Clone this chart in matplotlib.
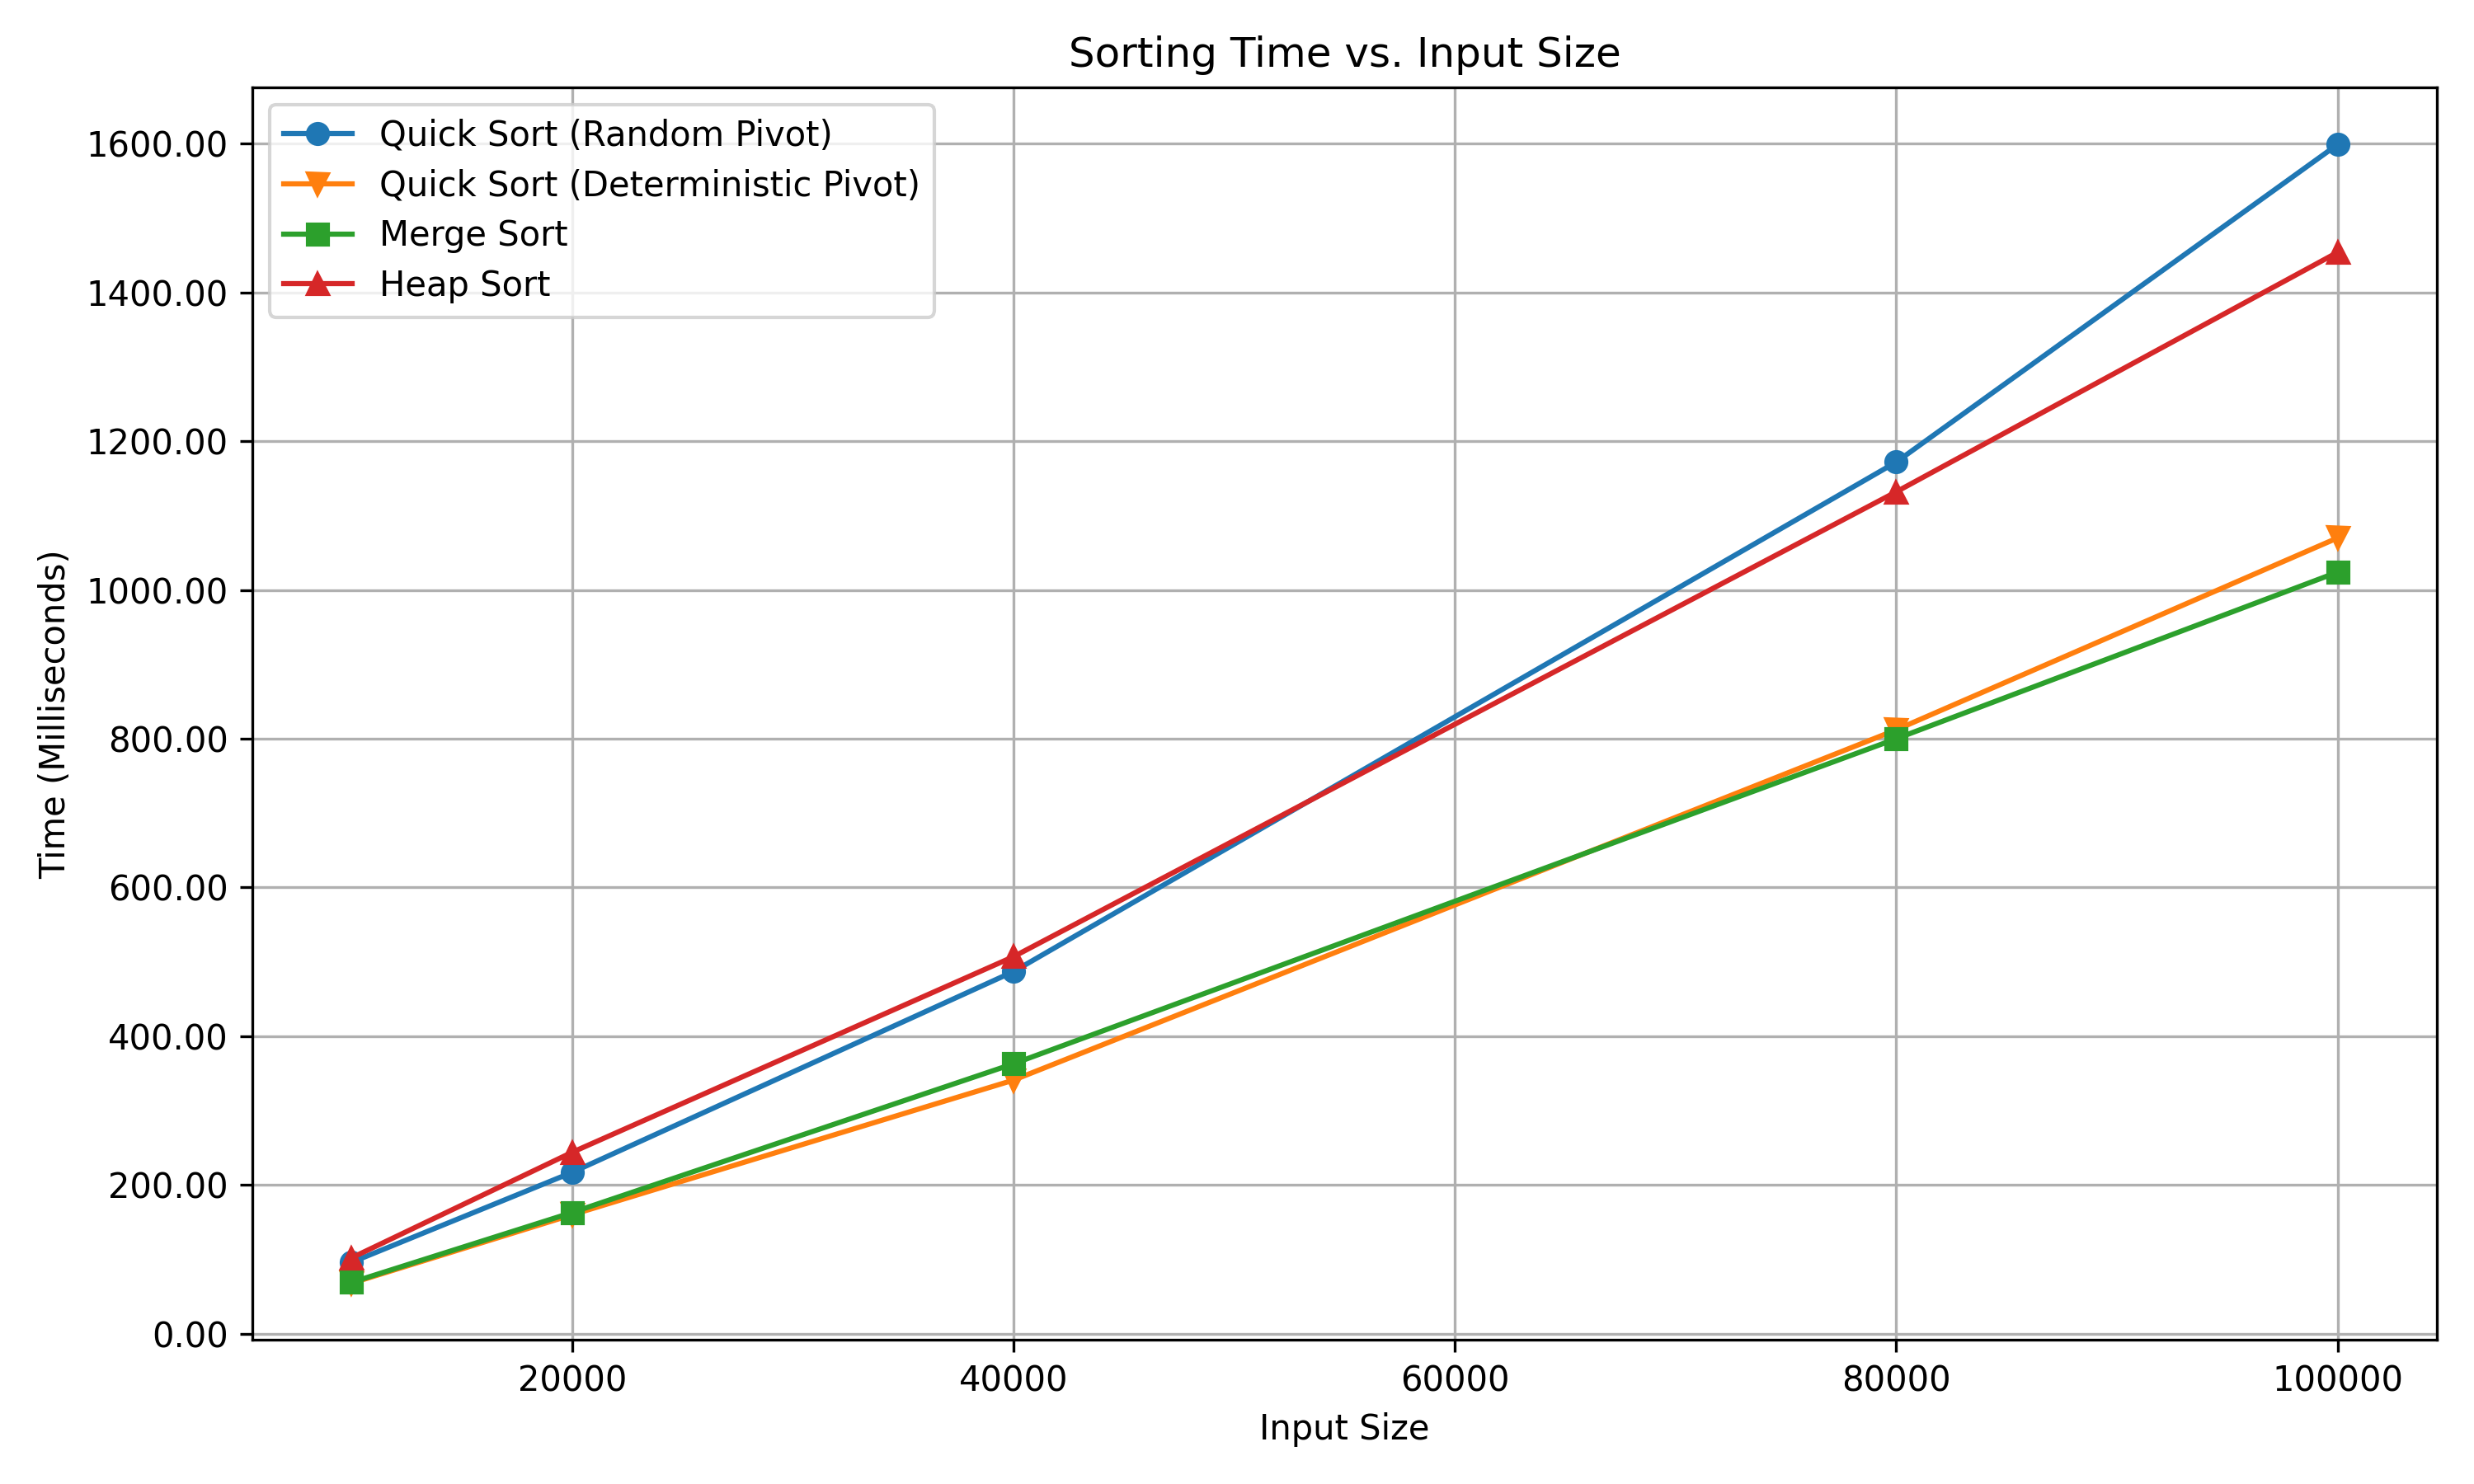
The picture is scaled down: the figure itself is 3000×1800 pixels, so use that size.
import matplotlib
matplotlib.use("Agg")
import matplotlib.pyplot as plt
from matplotlib.ticker import FormatStrFormatter

input_sizes = [10000, 20000, 40000, 80000, 100000]
quick_random = [96, 217, 487, 1172, 1599]
quick_det = [68, 160, 341, 812, 1070]
merge_sort = [69, 163, 363, 800, 1024]
heap_sort = [102, 244, 507, 1132, 1454]

fig, ax = plt.subplots(figsize=(10, 6))
ax.plot(input_sizes, quick_random, marker='o', label='Quick Sort (Random Pivot)')
ax.plot(input_sizes, quick_det, marker='v', label='Quick Sort (Deterministic Pivot)')
ax.plot(input_sizes, merge_sort, marker='s', label='Merge Sort')
ax.plot(input_sizes, heap_sort, marker='^', label='Heap Sort')

ax.set_title('Sorting Time vs. Input Size')
ax.set_xlabel('Input Size')
ax.set_ylabel('Time (Milliseconds)')
ax.yaxis.set_major_formatter(FormatStrFormatter('%.2f'))
ax.grid(True)
ax.legend(loc='upper left', labelspacing=0.45)

fig.subplots_adjust(left=0.102, right=0.985, bottom=0.097, top=0.941)
plt.savefig('out.png', dpi=300)
